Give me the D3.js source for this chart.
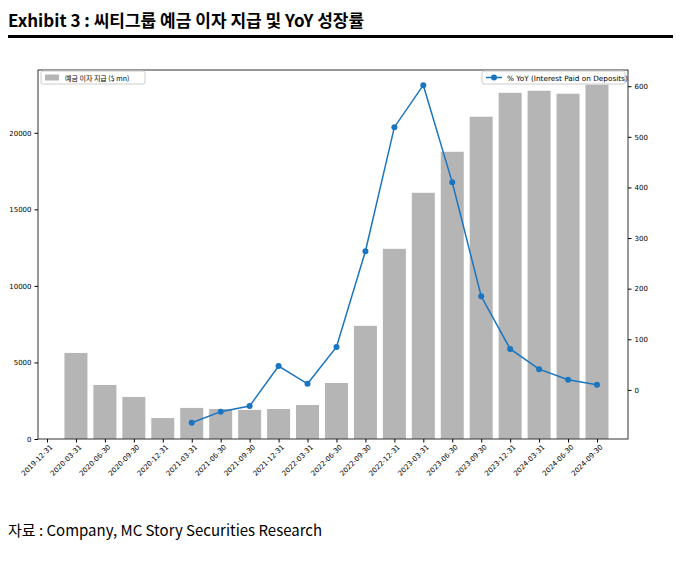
<!DOCTYPE html><html><head><meta charset="utf-8"><script src="https://cdn.jsdelivr.net/npm/d3@7"></script>
<style>body{margin:0;background:#fff;font-family:"Noto Sans CJK KR","Noto Sans",sans-serif}</style></head><body><svg id="c" width="684" height="562"></svg><script>
const categories=["2019-12-31","2020-03-31","2020-06-30","2020-09-30","2020-12-31","2021-03-31","2021-06-30","2021-09-30","2021-12-31","2022-03-31","2022-06-30","2022-09-30","2022-12-31","2023-03-31","2023-06-30","2023-09-30","2023-12-31","2024-03-31","2024-06-30","2024-09-30"];
const interestPaid=[0,5620,3530,2745,1370,2030,1960,1900,1960,2220,3660,7390,12420,16080,18760,21050,22610,22745,22550,23140];
const yoy=[null,null,null,null,null,-65,-43,-32,47,12,85,274,519,602,410,185,81,41,20,10];
const leftTicks=[0,5000,10000,15000,20000];
const rightTicks=[0,100,200,300,400,500,600];
const svg=d3.select("#c");
svg.append("text").attr("x",8).attr("y",27).attr("font-size",17).attr("font-weight","bold").text("Exhibit 3 : 씨티그룹 예금 이자 지급 및 YoY 성장률");
svg.append("rect").attr("x",8).attr("y",35).attr("width",665).attr("height",3).attr("fill","#000");
svg.append("text").attr("x",8).attr("y",536).attr("font-size",15).text("자료 : Company, MC Story Securities Research");
const L=38,R=628,T=70,B=439;
const x=d3.scalePoint().domain(categories).range([47,597]);
const y=d3.scaleLinear().domain([0,24100]).range([B,T]);
const y2=d3.scaleLinear().domain([-97,632]).range([B,T]);
const bw=23;
svg.append("g").selectAll("rect").data(categories).join("rect")
 .attr("x",d=>x(d)-bw/2).attr("width",bw).attr("y",(d,i)=>y(interestPaid[i])).attr("height",(d,i)=>B-y(interestPaid[i])).attr("fill","#b5b5b6");
const pts=categories.map((c,i)=>({c,v:yoy[i]})).filter(d=>d.v!==null);
const blue="#1a75c0";
svg.append("path").datum(pts).attr("fill","none").attr("stroke",blue).attr("stroke-width",1.5)
 .attr("d",d3.line().x(d=>x(d.c)).y(d=>y2(d.v)));
svg.append("g").selectAll("circle").data(pts).join("circle").attr("cx",d=>x(d.c)).attr("cy",d=>y2(d.v)).attr("r",3).attr("fill",blue);
svg.append("rect").attr("x",L).attr("y",T).attr("width",R-L).attr("height",B-T).attr("fill","none").attr("stroke","#333").attr("stroke-width",1);
const fs=7;
const ax=svg.append("g").attr("transform",`translate(0,${B})`).call(d3.axisBottom(x).tickSize(3.5));
ax.select(".domain").remove();
ax.selectAll("text").attr("font-size",fs).attr("font-family","DejaVu Sans").attr("text-anchor","end").attr("transform","rotate(-45)").attr("dx","-0.3em").attr("dy","0.5em");
const al=svg.append("g").attr("transform",`translate(${L},0)`).call(d3.axisLeft(y).tickValues(leftTicks).tickFormat(d3.format("d")).tickSize(3.5));
al.select(".domain").remove();al.selectAll("text").attr("font-size",fs).attr("font-family","DejaVu Sans");
const ar=svg.append("g").attr("transform",`translate(${R},0)`).call(d3.axisRight(y2).tickValues(rightTicks).tickSize(3.5));
ar.select(".domain").remove();ar.selectAll("text").attr("font-size",fs).attr("font-family","DejaVu Sans");
const lg1=svg.append("g");
lg1.append("rect").attr("x",41).attr("y",71).attr("width",104).attr("height",13).attr("fill","#fff").attr("stroke","#ccc").attr("rx",2);
lg1.append("rect").attr("x",45).attr("y",74.5).attr("width",14).attr("height",6).attr("fill","#b5b5b6");
lg1.append("text").attr("x",65).attr("y",80.5).attr("font-size",7).text("예금 이자 지급 ($ mn)");
const lg2=svg.append("g");
lg2.append("rect").attr("x",482).attr("y",71).attr("width",143).attr("height",13).attr("fill","#fff").attr("stroke","#ccc").attr("rx",2);
lg2.append("line").attr("x1",486).attr("x2",502).attr("y1",77.5).attr("y2",77.5).attr("stroke",blue).attr("stroke-width",1.5);
lg2.append("circle").attr("cx",494).attr("cy",77.5).attr("r",3).attr("fill",blue);
lg2.append("text").attr("x",507).attr("y",80.5).attr("font-size",7.3).attr("font-family","DejaVu Sans").text("% YoY (Interest Paid on Deposits)");
</script></body></html>
